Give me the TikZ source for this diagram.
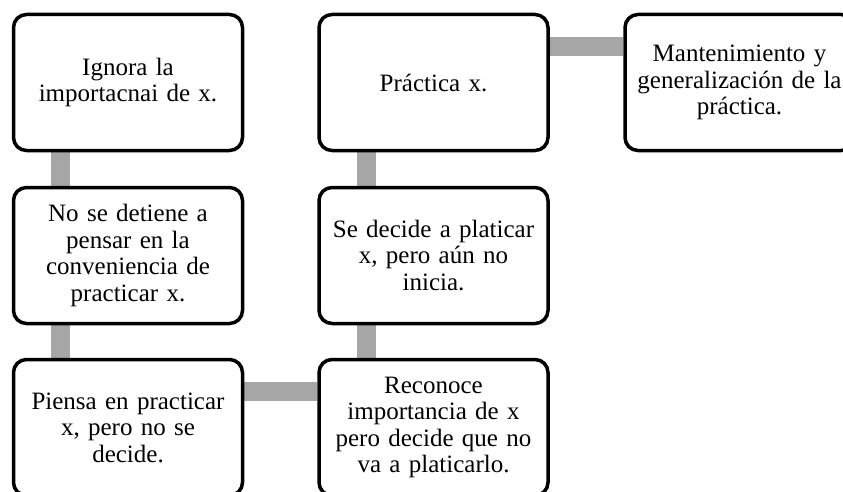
\documentclass[tikz,border=0pt]{standalone}
\usepackage{fontspec}
\setmainfont{Liberation Serif}
\usepackage{tikz}
\usetikzlibrary{backgrounds}

\definecolor{barGray}{RGB}{166,166,166}

\tikzset{
    stage/.style={draw=black, line width=3.5pt, fill=white, rounded corners=13pt,
        minimum width=229pt, minimum height=136pt, inner sep=0pt,
        text width=215pt, align=center,
        font=\fontsize{25}{26.5}\selectfont},
    bar/.style={draw=barGray, line width=19pt}
}

\begin{document}
\begin{tikzpicture}[x=1pt, y=-1pt]
        \clip (0, 0) rectangle (843, 492);
        \node[stage] (ignora)   at (128.0,  82.5) {Ignora la\\importacnai de x.};
        \node[stage] (detiene)  at (128.0, 255.5) {No se detiene a\\pensar en la\\conveniencia de\\practicar x.};
        \node[stage] (piensa)   at (128.0, 427.5) {Piensa en practicar\\x, pero no se\\decide.};
        \node[stage] (reconoce) at (433.5, 427.5) {Reconoce\\importancia de x\\pero decide que no\\va a platicarlo.};
        \node[stage] (decide)   at (433.5, 255.5) {Se decide a platicar\\x, pero aún no\\inicia.};
        \node[stage] (practica) at (433.5,  82.5) {Práctica x.};
        \node[stage] (mantiene) at (739.5,  82.5) {Mantenimiento y\\generalización de la\\práctica.};
        \begin{scope}[on background layer]
            \draw[bar] ([xshift=-68]ignora.south)   -- ([xshift=-68]detiene.north);
            \draw[bar] ([xshift=-68]detiene.south)  -- ([xshift=-68]piensa.north);
            \draw[bar] ([yshift=36]piensa.east)     -- ([yshift=36]reconoce.west);
            \draw[bar] ([xshift=-67]reconoce.north) -- ([xshift=-67]decide.south);
            \draw[bar] ([xshift=-67]decide.north)   -- ([xshift=-67]practica.south);
            \draw[bar] ([yshift=36]practica.east)   -- ([yshift=36]mantiene.west);
        \end{scope}
    \end{tikzpicture}
\end{document}
